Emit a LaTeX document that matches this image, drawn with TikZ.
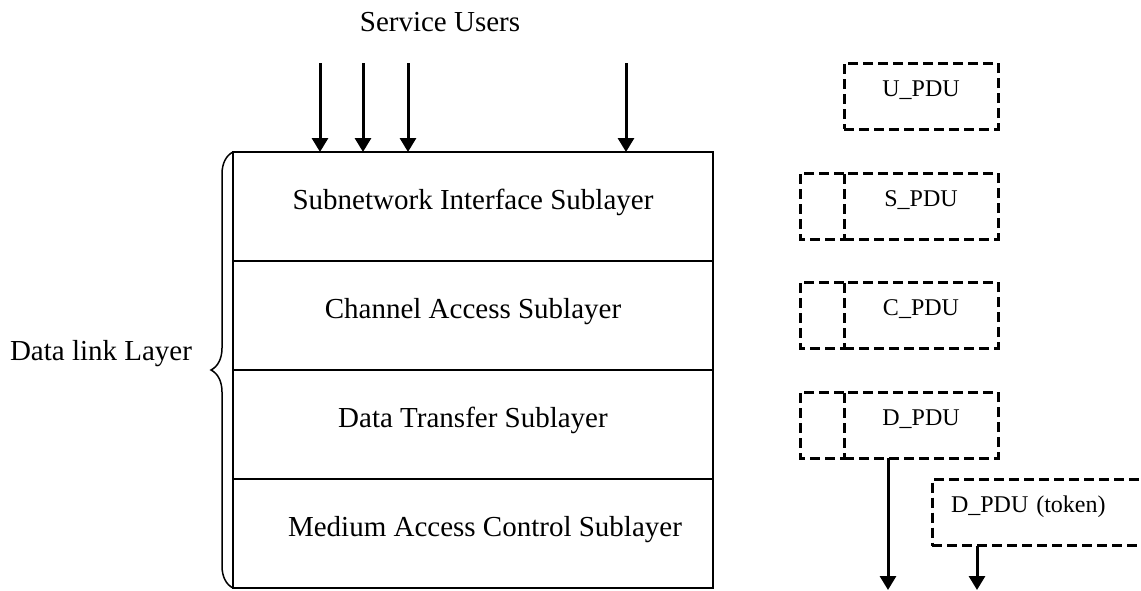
\documentclass[tikz,border=0pt]{standalone}
\usepackage{fontspec}
\setmainfont{Liberation Serif}
\usetikzlibrary{arrows.meta, positioning, decorations.pathreplacing}

\tikzset{
    sublayer/.style={draw=black, line width=0.75pt, minimum width=240pt, minimum height=54.5pt, inner sep=0pt, outer sep=0pt, text height=0.7em, text depth=0.44em, font=\fontsize{14.5}{17}\selectfont},
    pduline/.style={draw=black, line width=1.5pt, dash pattern=on 5pt off 2.5pt},
    pdubox/.style={pduline, minimum width=77pt, minimum height=33pt, inner sep=0pt, outer sep=0pt, text height=0.7em, text depth=0.66em, font=\fontsize{12}{14}\selectfont},
    hdrbox/.style={minimum width=22pt, minimum height=33pt, inner sep=0pt, outer sep=0pt},
    down/.style={-{Triangle[length=7pt, width=8pt]}, line width=1.5pt},
    plain/.style={font=\fontsize{14.5}{17}\selectfont}
}

\begin{document}
\begin{tikzpicture}[x=0.5pt, y=-0.5pt]
    \useasboundingbox (0,0) rectangle (1141,590);
    \clip (0,0) rectangle (1141,590);

    % --- Sublayer stack ---
    \node[sublayer] (sis) at (473,206.5) {Subnetwork Interface Sublayer};
    \node[sublayer, below=0pt of sis] (cas) {Channel Access Sublayer};
    \node[sublayer, below=0pt of cas] (dts) {Data Transfer Sublayer};
    \node[sublayer, below=0pt of dts] (mac) {\hspace*{12pt}Medium Access Control Sublayer};

    % Brace
    \draw[line width=0.75pt, decorate, decoration={brace, amplitude=11pt}] (mac.south west) -- (sis.north west);
    \node[plain] (dll) at (101,354) {Data link Layer};

    % --- Service users ---
    \node[plain] (users) at (440,22) {Service Users};
    \coordinate (su1) at (320,63);
    \coordinate (su2) at (363,63);
    \coordinate (su3) at (408,63);
    \coordinate (su4) at (626,63);
    \foreach \u in {su1,su2,su3,su4}
        \draw[down] (\u) -- (\u |- sis.north);

    % --- PDUs ---
    \node[pdubox] (updu) at (921,96) {U\_PDU};
    \node[pdubox] (spdu) at (921,206) {S\_PDU};
    \node[hdrbox, left=0pt of spdu] (shdr) {};
    \node[pdubox] (cpdu) at (921,315) {C\_PDU};
    \node[hdrbox, left=0pt of cpdu] (chdr) {};
    \node[pdubox] (dpdu) at (921,425) {D\_PDU};
    \node[hdrbox, left=0pt of dpdu] (dhdr) {};
    % header fields
    \foreach \p/\h in {spdu/shdr, cpdu/chdr, dpdu/dhdr}
        \draw[pduline] (\p.north west) -- (\h.north west) -- (\h.south west) -- (\p.south west);
    \node[pdubox, anchor=west, text width=95pt, inner xsep=9.5pt, align=left] (tok) at (932,512.5) {D\_PDU (token)};

    \coordinate (dout) at (888,590);
    \coordinate (tout) at (977,590);
    \draw[down] (dout |- dpdu.south) -- (dout);
    \draw[down] (tout |- tok.south) -- (tout);
\end{tikzpicture}
\end{document}
